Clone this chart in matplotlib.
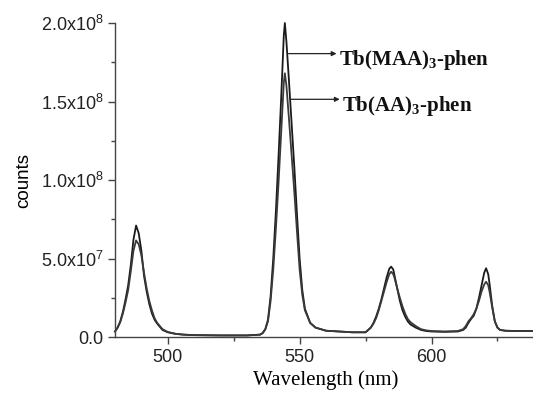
import matplotlib
matplotlib.use("Agg")
import matplotlib.pyplot as plt
from matplotlib.ticker import MultipleLocator, FuncFormatter

# emission spectra (counts in units of 1e7)
wavelength = [480, 481, 482, 483, 484, 485, 486, 487, 488, 489, 490, 491, 492, 493, 494, 495, 496, 498,
              500, 503, 506, 510, 520, 530, 535, 536, 537, 538, 539, 540, 541, 542, 543, 544, 544.4,
              545, 546, 547, 548, 549, 550, 551, 552, 554, 556, 560, 570, 575, 577, 578, 579, 580,
              581, 582, 583, 584, 584.7, 585.5, 586, 587, 588, 589, 590, 591, 592, 594, 596, 598,
              600, 605, 610, 612, 613, 614, 615, 616, 617, 618, 619, 620, 620.7, 621.5, 622, 623,
              624, 625, 626, 628, 632, 640]
maa = [0.35, 0.6, 1.0, 1.6, 2.4, 3.3, 4.6, 6.2, 7.1, 6.6, 5.5, 3.9, 2.9, 2.1, 1.5, 1.1, 0.85, 0.45,
       0.3, 0.2, 0.15, 0.12, 0.1, 0.1, 0.15, 0.25, 0.5, 1.1, 2.6, 5.0, 8.0, 11.5, 15.2, 19.2, 20.0,
       18.8, 16.2, 13.5, 10.8, 7.8, 5.0, 3.0, 1.8, 0.9, 0.6, 0.4, 0.3, 0.3, 0.6, 0.9, 1.3, 1.8,
       2.4, 3.1, 3.8, 4.35, 4.48, 4.3, 3.9, 3.1, 2.3, 1.7, 1.3, 1.0, 0.8, 0.6, 0.45, 0.38,
       0.35, 0.33, 0.35, 0.45, 0.6, 0.9, 1.15, 1.35, 1.8, 2.5, 3.3, 4.1, 4.38, 4.0, 3.4, 2.0,
       1.0, 0.6, 0.45, 0.4, 0.38, 0.38]
aa = [0.35, 0.6, 0.95, 1.5, 2.2, 3.0, 4.2, 5.5, 6.15, 5.9, 5.2, 4.1, 3.1, 2.3, 1.7, 1.2, 0.9, 0.5,
      0.32, 0.2, 0.15, 0.12, 0.1, 0.1, 0.15, 0.25, 0.5, 1.0, 2.3, 4.3, 6.9, 9.8, 13.0, 16.2, 16.8,
      16.0, 13.8, 11.5, 9.2, 6.7, 4.3, 2.7, 1.7, 0.9, 0.6, 0.4, 0.3, 0.3, 0.6, 0.85, 1.2, 1.7,
      2.3, 2.9, 3.5, 4.0, 4.16, 4.0, 3.75, 3.1, 2.5, 1.95, 1.5, 1.15, 0.95, 0.7, 0.5, 0.42,
      0.38, 0.35, 0.38, 0.5, 0.7, 1.0, 1.2, 1.45, 1.8, 2.3, 2.9, 3.35, 3.52, 3.3, 2.9, 1.9,
      1.0, 0.6, 0.45, 0.4, 0.38, 0.38]

labels = ["Tb(MAA)$_3$-phen", "Tb(AA)$_3$-phen"]

plt.rcParams['font.family'] = 'Liberation Sans'
plt.rcParams['mathtext.default'] = 'regular'

fig = plt.figure(figsize=(5.33, 3.95), dpi=100)
ax = fig.add_axes([115 / 533, 58 / 395, 422 / 533, 314 / 395])

scale = 1e7
ax.plot(wavelength, [v * scale for v in maa], color='#1a1a1a', lw=1.3, clip_on=False)
ax.plot(wavelength, [v * scale for v in aa], color='#3a3a3a', lw=1.3, clip_on=False)

ax.set_xlim(480, 640)
ax.set_ylim(0, 2.0e8)

ax.spines['top'].set_visible(False)
ax.spines['right'].set_visible(False)
for s in ['left', 'bottom']:
    ax.spines[s].set_color('#444444')
    ax.spines[s].set_linewidth(1.0)

ax.xaxis.set_major_locator(MultipleLocator(50))
ax.xaxis.set_minor_locator(MultipleLocator(25))
ax.yaxis.set_major_locator(MultipleLocator(5e7))
ax.yaxis.set_minor_locator(MultipleLocator(2.5e7))


def yfmt(v, pos):
    if v == 0:
        return "0.0"
    exp = 0
    m = v
    while m >= 10:
        m /= 10
        exp += 1
    return f"{m:.1f}x10$^{exp}$"


ax.yaxis.set_major_formatter(FuncFormatter(yfmt))
ax.tick_params(which='major', length=5, width=1, color='#444444', labelsize=13, labelcolor='#222222')
ax.tick_params(which='minor', length=3, width=1, color='#444444')

ax.set_xlabel("Wavelength (nm)", fontfamily='Liberation Serif', fontsize=15, labelpad=3)
ax.set_ylabel("counts", fontsize=13.5, labelpad=6)

# arrows pointing from the main peak to the labels
arrows = [((545.8, 1.805e8), (564.0, 1.805e8)), ((546.5, 1.514e8), (565.2, 1.514e8))]
for lab, (start, end) in zip(labels, arrows):
    ax.annotate("", xy=end, xytext=start,
                arrowprops=dict(arrowstyle='-|>', color='#222222', lw=0.9,
                                mutation_scale=7, shrinkA=0, shrinkB=0))
    ax.text(end[0] + 0.8, end[1] - 0.04e8, lab, fontfamily='Liberation Serif', fontweight='bold',
            fontsize=15, va='center', ha='left', color='#111111')

fig.savefig("out.png", dpi=100)
